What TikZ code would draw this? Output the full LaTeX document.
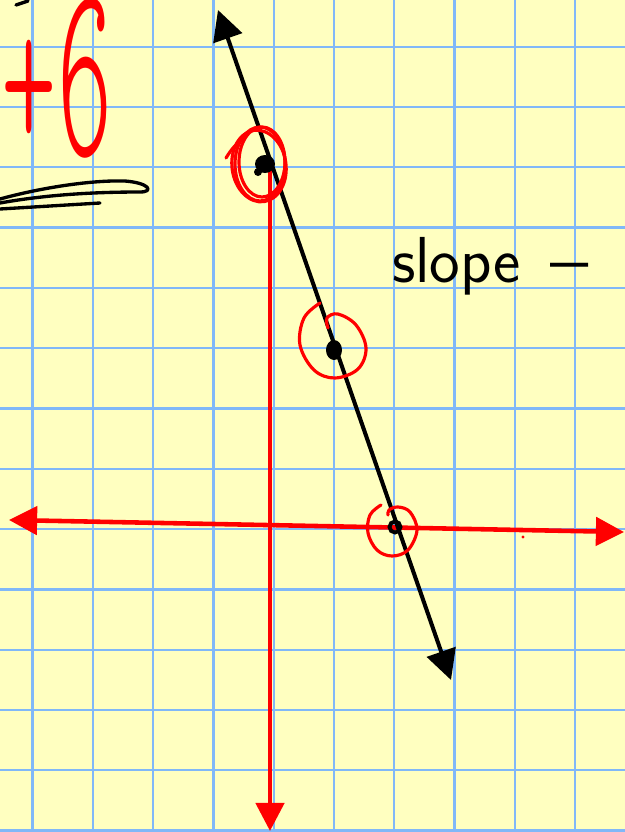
\documentclass[tikz,border=0pt]{standalone}
\usepackage{graphicx}
\usetikzlibrary{arrows.meta}
\definecolor{paper}{RGB}{255,255,192}
\definecolor{gridblue}{RGB}{128,184,248}
\definecolor{ink}{RGB}{0,0,0}
\definecolor{pen}{RGB}{255,0,0}
\tikzset{
  gridline/.style={gridblue, line width=1.3pt},
  redaxis/.style={pen, line width=2.6pt},
  axistip/.style={-{Triangle[length=16pt,width=16pt]}},
  blackline/.style={ink, line width=2.3pt, {Triangle[length=17pt,width=17pt]}-{Triangle[length=17pt,width=17pt]}},
  ringline/.style={pen, line width=1.8pt, line cap=round, line join=round},
  scrawl/.style={ink, line width=1.9pt, line cap=round, line join=round},
  hand/.style={inner sep=0pt, outer sep=0pt},
}
\begin{document}
\begin{tikzpicture}[x=0.02cm,y=-0.02cm]
\fill[paper] (0,0) rectangle (625,832);
\useasboundingbox (0,0) rectangle (625,832);
\begin{scope}
\clip (0,0) rectangle (625,832);
\foreach \i in {0,...,9} \draw[gridline] ({32.5+60.3*\i},0) -- ({32.5+60.3*\i},832);
\foreach \j in {0,...,13} \draw[gridline] (0,{46.7+60.3*\j}) -- (625,{46.7+60.3*\j});

% axes
\coordinate (ytop) at (270,162);
\coordinate (ybot) at (270,831);
\coordinate (xl) at (9,520);
\coordinate (xr) at (624,532);
\draw[redaxis, axistip] (ytop) -- (ybot);
\draw[redaxis, {Triangle[length=16pt,width=16pt]}-{Triangle[length=16pt,width=16pt]}] (xl) -- (xr);
\fill[pen] (523,537) circle (1.6);

% black line
\coordinate (ltop) at (218,10);
\coordinate (lbot) at (451,680);
\draw[blackline] (ltop) -- (lbot);

% points
\coordinate (A) at (265,164);
\coordinate (B) at (334,350);
\coordinate (C) at (395,527);
\fill[ink] (A) ellipse (10 and 9);
\fill[ink] (258,172) circle (4);
\fill[ink] (B) ellipse (8 and 10);
\draw[ink, line width=2.2pt] (C) circle (5.5);

% red loops
\draw[ringline] (260,164) ellipse (25 and 37);
\draw[ringline] (262,162) ellipse (23 and 35);
\draw[ringline, rotate around={8:(259,166)}] (259,166) ellipse (27 and 36);
\draw[ringline] (226,158) .. controls (232,148) and (238,142) .. (246,136);
\draw[ringline] plot[smooth, tension=0.6] coordinates {(320,303) (304,318) (300,345) (314,370) (335,378) (358,369) (366,348) (356,325) (338,314) (327,318) (328,328)};
\draw[ringline] plot[smooth, tension=0.6] coordinates {(381,505) (370,515) (368,533) (377,550) (392,556) (408,550) (417,530) (410,512) (398,507) (389,510) (388,515)};

% scribbles top left
\draw[scrawl] (16,5) -- (28,1);
\draw[scrawl] (0,199) .. controls (40,188) and (90,180) .. (125,181) .. controls (150,183) and (154,192) .. (140,192) .. controls (100,192) and (50,194) .. (0,203);
\draw[scrawl] (0,209) -- (100,203);

% texts
\node[hand, pen, anchor=base west] (plus6) at (2,155) {\fontsize{120}{120}\ttfamily\fontseries{l}\selectfont\raisebox{2pt}{\scalebox{0.5}[1]{+}}\scalebox{0.5}[1.2]{6}};
\node[hand, ink, anchor=base west] (slope) at (392,282) {\fontsize{37}{40}\selectfont\sffamily slope\hspace{0.45em}\scalebox{1.25}[1]{--}};
\end{scope}
\end{tikzpicture}
\end{document}
